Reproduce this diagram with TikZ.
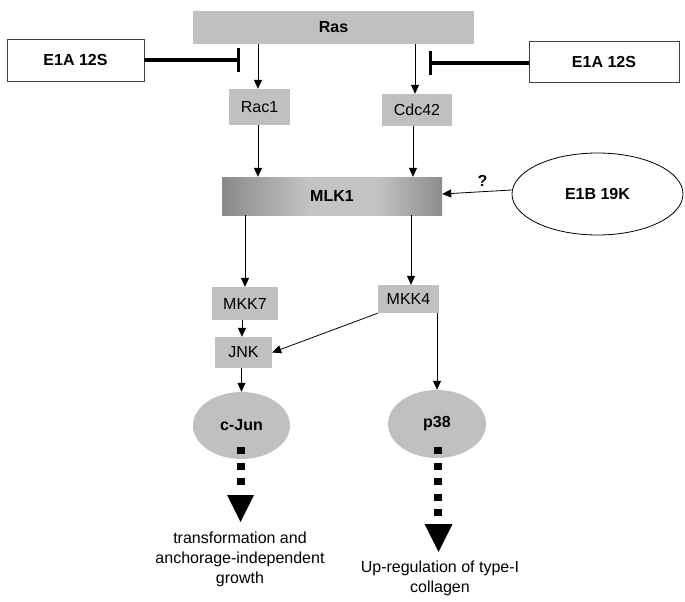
\documentclass[tikz,border=0pt]{standalone}
\usepackage{fontspec}
\setmainfont{Liberation Sans}
\usetikzlibrary{arrows.meta,shapes.geometric}
\definecolor{boxgray}{RGB}{192,192,192}
\definecolor{sh1}{RGB}{88,88,88}
\definecolor{sh2}{RGB}{196,196,196}
\definecolor{sh3}{RGB}{92,92,92}
\definecolor{sh4}{RGB}{105,105,105}
\pgfdeclarehorizontalshading{mlkshade}{100bp}{color(0bp)=(sh1); color(8bp)=(sh1); color(45bp)=(sh2); color(60bp)=(sh2); color(88bp)=(sh3); color(100bp)=(sh4)}
\begin{document}
\begin{tikzpicture}[x=1pt,y=-1pt,
  every node/.style={font=\fontsize{16}{20}\selectfont, inner sep=0pt},
  bfont/.style={font=\fontsize{16}{20}\selectfont\bfseries},
  gbox/.style={rectangle, fill=boxgray},
  wbox/.style={rectangle, draw=black!75, line width=0.8pt, fill=white, bfont},
  gell/.style={ellipse, fill=boxgray, bfont},
  arr/.style={line width=0.8pt, -{Triangle[length=9pt,width=8pt]}},
  inh/.style={line width=3.5pt, -{Bar[width=24pt,line width=2.6pt]}},
  sq/.style={line width=8pt, dash pattern=on 7pt off 8.6pt},
  outtext/.style={align=center}
]
\useasboundingbox[fill=white] (0,0) rectangle (685,602);

\node[gbox, minimum width=281pt, minimum height=33pt, bfont] (ras) at (333.5,27.5) {Ras};
\node[wbox, minimum width=137pt, minimum height=42pt] (e1aL) at (75.5,60) {E1A 12S};
\node[wbox, minimum width=150pt, minimum height=41pt] (e1aR) at (604,61.5) {E1A 12S};
\node[gbox, minimum width=61pt, minimum height=36pt] (rac1) at (259.5,107) {Rac1};
\node[gbox, minimum width=70pt, minimum height=32pt] (cdc42) at (417,110) {Cdc42};
\node[rectangle, shading=mlkshade, minimum width=220pt, minimum height=38pt, bfont] (mlk1) at (332,196) {MLK1};
\node[ellipse, draw, line width=0.8pt, minimum width=171pt, minimum height=82pt, bfont] (e1b) at (597.5,194) {E1B 19K};
\node[gbox, minimum width=66pt, minimum height=33pt] (mkk7) at (245,303.5) {MKK7};
\node[gbox, minimum width=61pt, minimum height=28pt] (mkk4) at (408.5,299) {MKK4};
\node[gbox, minimum width=57pt, minimum height=31pt] (jnk) at (243.5,352.5) {JNK};
\node[gell, minimum width=97pt, minimum height=67pt] (cjun) at (241.5,425.5) {c-Jun};
\node[gell, minimum width=98pt, minimum height=68pt] (p38) at (437,424) {p38};

\node[outtext] (out1) at (240,559) {transformation and\\anchorage-independent\\growth};
\node[outtext] (out2) at (440,578) {Up-regulation of type-I\\collagen};

% activation arrows
\draw[arr] ([xshift=-1.5pt]ras.south -| rac1) -- ([xshift=-1.5pt]rac1.north);
\draw[arr] ([xshift=-2pt]ras.south -| cdc42) -- ([xshift=-2pt]cdc42.north);
\draw[arr] ([xshift=-1.5pt]rac1.south) -- ([xshift=-1.5pt]rac1.south |- mlk1.north);
\draw[arr] ([xshift=-4pt]cdc42.south) -- ([xshift=-4pt]cdc42.south |- mlk1.north);
\draw[arr] ([yshift=4pt]e1b.west) -- ([yshift=2pt]mlk1.east) node[pos=0.42, above=5pt, bfont] {?};
\draw[arr] (mlk1.south -| mkk7) -- (mkk7.north);
\draw[arr] ([xshift=2.5pt]mlk1.south -| mkk4) -- ([xshift=2.5pt]mkk4.north);
\draw[arr] ([xshift=-1.5pt]mkk7.south -| jnk) -- ([xshift=-1.5pt]jnk.north);
\draw[arr] (mkk4.south west) -- (jnk.east);
\draw[arr] (mkk4.south -| p38) -- (p38.north);
\draw[arr] (jnk.south -| cjun) -- (cjun.north);

% inhibition
\coordinate (barL) at (240,60);
\coordinate (barR) at (429,63);
\draw[inh] (e1aL.east) -- (barL);
\draw[inh] (e1aR.west |- barR) -- (barR);

% dotted outputs
\coordinate (d1s) at (240.5,447);
\coordinate (d1e) at (240.5,487);
\coordinate (t1) at (240.5,495);
\draw[sq] (d1s) -- (d1e);
\fill (t1) ++(-13.5,0) -- ++(27,0) -- ++(-13.5,27) -- cycle;

\coordinate (d2s) at (438,447);
\coordinate (d2e) at (438,517);
\coordinate (t2) at (438.5,524);
\draw[sq] (d2s) -- (d2e);
\fill (t2) ++(-14,0) -- ++(28,0) -- ++(-14,28) -- cycle;
\end{tikzpicture}
\end{document}
